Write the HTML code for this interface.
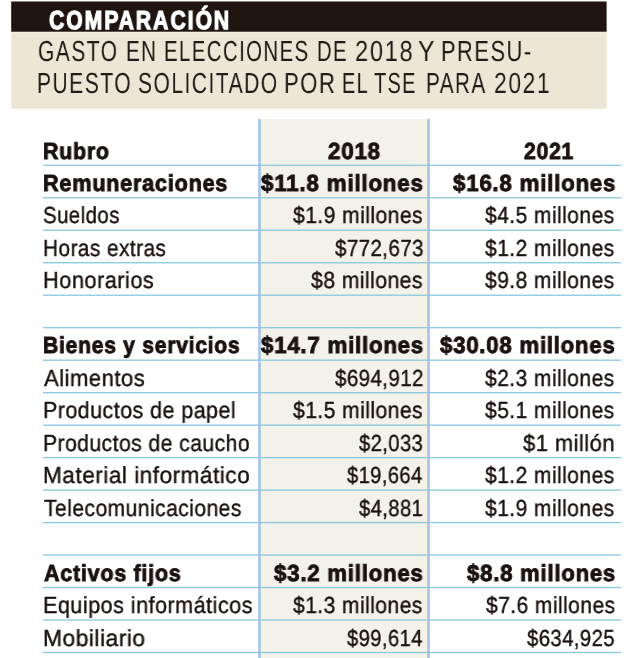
<!DOCTYPE html>
<html><head><meta charset="utf-8">
<style>
html,body{margin:0;padding:0;background:#fff;width:627px;height:658px;overflow:hidden;position:relative}
.t{position:absolute;white-space:nowrap;text-rendering:geometricPrecision;will-change:transform;font-family:"Liberation Sans",sans-serif;transform-origin:0 0}
.abs{position:absolute}
</style></head><body>
<svg class="abs" style="left:0;top:0" width="627" height="658" viewBox="0 0 627 658">
<rect x="11.2" y="1.5" width="595.4" height="107.3" fill="#ede6d6"/>
<rect x="11.2" y="31.6" width="595.4" height="1.6" fill="#f3eee0"/>
<rect x="11.2" y="1.5" width="595.4" height="30.2" fill="#1f1410"/>
<rect x="261" y="119" width="166" height="539" fill="#f2f1ea"/>
<rect x="261" y="119" width="2.5" height="539" fill="#f9f3e4"/>
<rect x="424.5" y="119" width="2.5" height="539" fill="#f9f3e4"/>
<rect x="43" y="164.65" width="578" height="1.3" fill="#88c8e0"/>
<rect x="43" y="197.13" width="578" height="1.3" fill="#88c8e0"/>
<rect x="43" y="229.61" width="578" height="1.3" fill="#88c8e0"/>
<rect x="43" y="262.09" width="578" height="1.3" fill="#88c8e0"/>
<rect x="43" y="294.57" width="578" height="1.3" fill="#88c8e0"/>
<rect x="43" y="327.05" width="578" height="1.3" fill="#88c8e0"/>
<rect x="43" y="359.53" width="578" height="1.3" fill="#88c8e0"/>
<rect x="43" y="392.01" width="578" height="1.3" fill="#88c8e0"/>
<rect x="43" y="424.49" width="578" height="1.3" fill="#88c8e0"/>
<rect x="43" y="456.97" width="578" height="1.3" fill="#88c8e0"/>
<rect x="43" y="489.45" width="578" height="1.3" fill="#88c8e0"/>
<rect x="43" y="521.93" width="578" height="1.3" fill="#88c8e0"/>
<rect x="43" y="554.41" width="578" height="1.3" fill="#88c8e0"/>
<rect x="43" y="586.89" width="578" height="1.3" fill="#88c8e0"/>
<rect x="43" y="619.37" width="578" height="1.3" fill="#88c8e0"/>
<rect x="43" y="651.85" width="578" height="1.3" fill="#88c8e0"/>
<rect x="258.2" y="119" width="2.6" height="539" fill="#a2c2e8"/>
<rect x="427.2" y="119" width="2.6" height="539" fill="#a2c2e8"/>
</svg>
<div class=t style="left:49.00px;top:6.50px;font-family:'Liberation Sans', sans-serif;font-weight:bold;font-size:26px;line-height:26px;white-space:nowrap;letter-spacing:2.5px;-webkit-text-stroke:1.3px #ffffff;color:#ffffff;transform:scaleX(0.8100)">COMPARACIÓN</div>
<div class=t style="left:38.18px;top:37.90px;font-family:'Liberation Sans', sans-serif;font-weight:normal;font-size:29px;line-height:29px;white-space:nowrap;letter-spacing:2px;-webkit-text-stroke:0.0px #ede6d6;color:#221b17;transform:scaleX(0.7243)">GASTO</div>
<div class=t style="left:126.08px;top:37.90px;font-family:'Liberation Sans', sans-serif;font-weight:normal;font-size:29px;line-height:29px;white-space:nowrap;letter-spacing:2px;-webkit-text-stroke:0.0px #ede6d6;color:#221b17;transform:scaleX(0.7105)">EN</div>
<div class=t style="left:163.89px;top:37.90px;font-family:'Liberation Sans', sans-serif;font-weight:normal;font-size:29px;line-height:29px;white-space:nowrap;letter-spacing:2px;-webkit-text-stroke:0.0px #ede6d6;color:#221b17;transform:scaleX(0.7035)">ELECCIONES</div>
<div class=t style="left:317.11px;top:37.90px;font-family:'Liberation Sans', sans-serif;font-weight:normal;font-size:29px;line-height:29px;white-space:nowrap;letter-spacing:2px;-webkit-text-stroke:0.0px #ede6d6;color:#221b17;transform:scaleX(0.6974)">DE</div>
<div class=t style="left:354.88px;top:37.90px;font-family:'Liberation Sans', sans-serif;font-weight:normal;font-size:29px;line-height:29px;white-space:nowrap;letter-spacing:2px;-webkit-text-stroke:0.0px #ede6d6;color:#221b17;transform:scaleX(0.8162)">2018</div>
<div class=t style="left:417.65px;top:37.90px;font-family:'Liberation Sans', sans-serif;font-weight:normal;font-size:29px;line-height:29px;white-space:nowrap;letter-spacing:2px;-webkit-text-stroke:0.0px #ede6d6;color:#221b17;transform:scaleX(0.8500)">Y</div>
<div class=t style="left:440.89px;top:37.90px;font-family:'Liberation Sans', sans-serif;font-weight:normal;font-size:29px;line-height:29px;white-space:nowrap;letter-spacing:2px;-webkit-text-stroke:0.0px #ede6d6;color:#221b17;transform:scaleX(0.7530)">PRESU-</div>
<div class=t style="left:37.45px;top:70.40px;font-family:'Liberation Sans', sans-serif;font-weight:normal;font-size:29px;line-height:29px;white-space:nowrap;letter-spacing:2px;-webkit-text-stroke:0.0px #ede6d6;color:#221b17;transform:scaleX(0.7270)">PUESTO</div>
<div class=t style="left:138.37px;top:70.40px;font-family:'Liberation Sans', sans-serif;font-weight:normal;font-size:29px;line-height:29px;white-space:nowrap;letter-spacing:2px;-webkit-text-stroke:0.0px #ede6d6;color:#221b17;transform:scaleX(0.7265)">SOLICITADO</div>
<div class=t style="left:283.98px;top:70.40px;font-family:'Liberation Sans', sans-serif;font-weight:normal;font-size:29px;line-height:29px;white-space:nowrap;letter-spacing:2px;-webkit-text-stroke:0.0px #ede6d6;color:#221b17;transform:scaleX(0.7603)">POR</div>
<div class=t style="left:341.93px;top:70.40px;font-family:'Liberation Sans', sans-serif;font-weight:normal;font-size:29px;line-height:29px;white-space:nowrap;letter-spacing:2px;-webkit-text-stroke:0.0px #ede6d6;color:#221b17;transform:scaleX(0.6857)">EL</div>
<div class=t style="left:373.71px;top:70.40px;font-family:'Liberation Sans', sans-serif;font-weight:normal;font-size:29px;line-height:29px;white-space:nowrap;letter-spacing:2px;-webkit-text-stroke:0.0px #ede6d6;color:#221b17;transform:scaleX(0.6862)">TSE</div>
<div class=t style="left:426.17px;top:70.40px;font-family:'Liberation Sans', sans-serif;font-weight:normal;font-size:29px;line-height:29px;white-space:nowrap;letter-spacing:2px;-webkit-text-stroke:0.0px #ede6d6;color:#221b17;transform:scaleX(0.7148)">PARA</div>
<div class=t style="left:493.71px;top:70.40px;font-family:'Liberation Sans', sans-serif;font-weight:normal;font-size:29px;line-height:29px;white-space:nowrap;letter-spacing:2px;-webkit-text-stroke:0.0px #ede6d6;color:#221b17;transform:scaleX(0.7882)">2021</div>
<div class=t style="left:42.88px;top:139.70px;font-family:'Liberation Sans', sans-serif;font-weight:bold;font-size:23.2px;line-height:23.2px;white-space:nowrap;letter-spacing:0.8px;-webkit-text-stroke:0.9px #1a1210;color:#1a1210;transform:scaleX(0.9229)">Rubro</div>
<div class=t style="left:328.40px;top:139.70px;font-family:'Liberation Sans', sans-serif;font-weight:bold;font-size:23.2px;line-height:23.2px;white-space:nowrap;letter-spacing:0.8px;-webkit-text-stroke:0.9px #1a1210;color:#1a1210;transform:scaleX(0.9648)">2018</div>
<div class=t style="left:523.60px;top:139.70px;font-family:'Liberation Sans', sans-serif;font-weight:bold;font-size:23.2px;line-height:23.2px;white-space:nowrap;letter-spacing:0.8px;-webkit-text-stroke:0.9px #1a1210;color:#1a1210;transform:scaleX(0.9130)">2021</div>
<div class=t style="left:42.87px;top:171.85px;font-family:'Liberation Sans', sans-serif;font-weight:bold;font-size:23.2px;line-height:23.2px;white-space:nowrap;letter-spacing:0.8px;-webkit-text-stroke:0.9px #1a1210;color:#1a1210;transform:scaleX(0.9347)">Remuneraciones</div>
<div class=t style="left:261.20px;top:171.85px;font-family:'Liberation Sans', sans-serif;font-weight:bold;font-size:23.2px;line-height:23.2px;white-space:nowrap;letter-spacing:0.8px;-webkit-text-stroke:0.9px #1a1210;color:#1a1210;transform:scaleX(0.9659)">$11.8 millones</div>
<div class=t style="left:453.00px;top:171.85px;font-family:'Liberation Sans', sans-serif;font-weight:bold;font-size:23.2px;line-height:23.2px;white-space:nowrap;letter-spacing:0.8px;-webkit-text-stroke:0.9px #1a1210;color:#1a1210;transform:scaleX(0.9613)">$16.8 millones</div>
<div class=t style="left:42.92px;top:204.35px;font-family:'Liberation Sans', sans-serif;font-weight:normal;font-size:23.2px;line-height:23.2px;white-space:nowrap;letter-spacing:0.5px;-webkit-text-stroke:0.4px #1a1210;color:#1a1210;transform:scaleX(0.8800)">Sueldos</div>
<div class=t style="left:293.00px;top:204.35px;font-family:'Liberation Sans', sans-serif;font-weight:normal;font-size:23.2px;line-height:23.2px;white-space:nowrap;letter-spacing:0.5px;-webkit-text-stroke:0.4px #1a1210;color:#1a1210;transform:scaleX(0.9085)">$1.9 millones</div>
<div class=t style="left:485.40px;top:204.35px;font-family:'Liberation Sans', sans-serif;font-weight:normal;font-size:23.2px;line-height:23.2px;white-space:nowrap;letter-spacing:0.5px;-webkit-text-stroke:0.4px #1a1210;color:#1a1210;transform:scaleX(0.9056)">$4.5 millones</div>
<div class=t style="left:42.90px;top:236.85px;font-family:'Liberation Sans', sans-serif;font-weight:normal;font-size:23.2px;line-height:23.2px;white-space:nowrap;letter-spacing:0.5px;-webkit-text-stroke:0.4px #1a1210;color:#1a1210;transform:scaleX(0.8978)">Horas extras</div>
<div class=t style="left:334.60px;top:236.85px;font-family:'Liberation Sans', sans-serif;font-weight:normal;font-size:23.2px;line-height:23.2px;white-space:nowrap;letter-spacing:0.5px;-webkit-text-stroke:0.4px #1a1210;color:#1a1210;transform:scaleX(0.8828)">$772,673</div>
<div class=t style="left:485.40px;top:236.85px;font-family:'Liberation Sans', sans-serif;font-weight:normal;font-size:23.2px;line-height:23.2px;white-space:nowrap;letter-spacing:0.5px;-webkit-text-stroke:0.4px #1a1210;color:#1a1210;transform:scaleX(0.9056)">$1.2 millones</div>
<div class=t style="left:42.86px;top:269.35px;font-family:'Liberation Sans', sans-serif;font-weight:normal;font-size:23.2px;line-height:23.2px;white-space:nowrap;letter-spacing:0.5px;-webkit-text-stroke:0.4px #1a1210;color:#1a1210;transform:scaleX(0.9397)">Honorarios</div>
<div class=t style="left:310.80px;top:269.35px;font-family:'Liberation Sans', sans-serif;font-weight:normal;font-size:23.2px;line-height:23.2px;white-space:nowrap;letter-spacing:0.5px;-webkit-text-stroke:0.4px #1a1210;color:#1a1210;transform:scaleX(0.9115)">$8 millones</div>
<div class=t style="left:485.40px;top:269.35px;font-family:'Liberation Sans', sans-serif;font-weight:normal;font-size:23.2px;line-height:23.2px;white-space:nowrap;letter-spacing:0.5px;-webkit-text-stroke:0.4px #1a1210;color:#1a1210;transform:scaleX(0.9056)">$9.8 millones</div>
<div class=t style="left:42.89px;top:334.35px;font-family:'Liberation Sans', sans-serif;font-weight:bold;font-size:23.2px;line-height:23.2px;white-space:nowrap;letter-spacing:0.8px;-webkit-text-stroke:0.9px #1a1210;color:#1a1210;transform:scaleX(0.9107)">Bienes y servicios</div>
<div class=t style="left:261.20px;top:334.35px;font-family:'Liberation Sans', sans-serif;font-weight:bold;font-size:23.2px;line-height:23.2px;white-space:nowrap;letter-spacing:0.8px;-webkit-text-stroke:0.9px #1a1210;color:#1a1210;transform:scaleX(0.9601)">$14.7 millones</div>
<div class=t style="left:440.30px;top:334.35px;font-family:'Liberation Sans', sans-serif;font-weight:bold;font-size:23.2px;line-height:23.2px;white-space:nowrap;letter-spacing:0.8px;-webkit-text-stroke:0.9px #1a1210;color:#1a1210;transform:scaleX(0.9571)">$30.08 millones</div>
<div class=t style="left:43.80px;top:366.85px;font-family:'Liberation Sans', sans-serif;font-weight:normal;font-size:23.2px;line-height:23.2px;white-space:nowrap;letter-spacing:0.5px;-webkit-text-stroke:0.4px #1a1210;color:#1a1210;transform:scaleX(0.9524)">Alimentos</div>
<div class=t style="left:334.60px;top:366.85px;font-family:'Liberation Sans', sans-serif;font-weight:normal;font-size:23.2px;line-height:23.2px;white-space:nowrap;letter-spacing:0.5px;-webkit-text-stroke:0.4px #1a1210;color:#1a1210;transform:scaleX(0.8828)">$694,912</div>
<div class=t style="left:485.40px;top:366.85px;font-family:'Liberation Sans', sans-serif;font-weight:normal;font-size:23.2px;line-height:23.2px;white-space:nowrap;letter-spacing:0.5px;-webkit-text-stroke:0.4px #1a1210;color:#1a1210;transform:scaleX(0.9056)">$2.3 millones</div>
<div class=t style="left:42.88px;top:399.35px;font-family:'Liberation Sans', sans-serif;font-weight:normal;font-size:23.2px;line-height:23.2px;white-space:nowrap;letter-spacing:0.5px;-webkit-text-stroke:0.4px #1a1210;color:#1a1210;transform:scaleX(0.9248)">Productos de papel</div>
<div class=t style="left:293.00px;top:399.35px;font-family:'Liberation Sans', sans-serif;font-weight:normal;font-size:23.2px;line-height:23.2px;white-space:nowrap;letter-spacing:0.5px;-webkit-text-stroke:0.4px #1a1210;color:#1a1210;transform:scaleX(0.9085)">$1.5 millones</div>
<div class=t style="left:485.40px;top:399.35px;font-family:'Liberation Sans', sans-serif;font-weight:normal;font-size:23.2px;line-height:23.2px;white-space:nowrap;letter-spacing:0.5px;-webkit-text-stroke:0.4px #1a1210;color:#1a1210;transform:scaleX(0.9056)">$5.1 millones</div>
<div class=t style="left:42.89px;top:431.85px;font-family:'Liberation Sans', sans-serif;font-weight:normal;font-size:23.2px;line-height:23.2px;white-space:nowrap;letter-spacing:0.5px;-webkit-text-stroke:0.4px #1a1210;color:#1a1210;transform:scaleX(0.9107)">Productos de caucho</div>
<div class=t style="left:358.60px;top:431.85px;font-family:'Liberation Sans', sans-serif;font-weight:normal;font-size:23.2px;line-height:23.2px;white-space:nowrap;letter-spacing:0.5px;-webkit-text-stroke:0.4px #1a1210;color:#1a1210;transform:scaleX(0.8685)">$2,033</div>
<div class=t style="left:523.30px;top:431.85px;font-family:'Liberation Sans', sans-serif;font-weight:normal;font-size:23.2px;line-height:23.2px;white-space:nowrap;letter-spacing:0.5px;-webkit-text-stroke:0.4px #1a1210;color:#1a1210;transform:scaleX(0.9448)">$1 millón</div>
<div class=t style="left:42.82px;top:464.35px;font-family:'Liberation Sans', sans-serif;font-weight:normal;font-size:23.2px;line-height:23.2px;white-space:nowrap;letter-spacing:0.5px;-webkit-text-stroke:0.4px #1a1210;color:#1a1210;transform:scaleX(0.9757)">Material informático</div>
<div class=t style="left:346.70px;top:464.35px;font-family:'Liberation Sans', sans-serif;font-weight:normal;font-size:23.2px;line-height:23.2px;white-space:nowrap;letter-spacing:0.5px;-webkit-text-stroke:0.4px #1a1210;color:#1a1210;transform:scaleX(0.8655)">$19,664</div>
<div class=t style="left:485.40px;top:464.35px;font-family:'Liberation Sans', sans-serif;font-weight:normal;font-size:23.2px;line-height:23.2px;white-space:nowrap;letter-spacing:0.5px;-webkit-text-stroke:0.4px #1a1210;color:#1a1210;transform:scaleX(0.9056)">$1.2 millones</div>
<div class=t style="left:43.80px;top:496.85px;font-family:'Liberation Sans', sans-serif;font-weight:normal;font-size:23.2px;line-height:23.2px;white-space:nowrap;letter-spacing:0.5px;-webkit-text-stroke:0.4px #1a1210;color:#1a1210;transform:scaleX(0.9083)">Telecomunicaciones</div>
<div class=t style="left:358.60px;top:496.85px;font-family:'Liberation Sans', sans-serif;font-weight:normal;font-size:23.2px;line-height:23.2px;white-space:nowrap;letter-spacing:0.5px;-webkit-text-stroke:0.4px #1a1210;color:#1a1210;transform:scaleX(0.8685)">$4,881</div>
<div class=t style="left:485.40px;top:496.85px;font-family:'Liberation Sans', sans-serif;font-weight:normal;font-size:23.2px;line-height:23.2px;white-space:nowrap;letter-spacing:0.5px;-webkit-text-stroke:0.4px #1a1210;color:#1a1210;transform:scaleX(0.9056)">$1.9 millones</div>
<div class=t style="left:43.80px;top:561.85px;font-family:'Liberation Sans', sans-serif;font-weight:bold;font-size:23.2px;line-height:23.2px;white-space:nowrap;letter-spacing:0.8px;-webkit-text-stroke:0.9px #1a1210;color:#1a1210;transform:scaleX(0.9279)">Activos fijos</div>
<div class=t style="left:273.90px;top:561.85px;font-family:'Liberation Sans', sans-serif;font-weight:bold;font-size:23.2px;line-height:23.2px;white-space:nowrap;letter-spacing:0.8px;-webkit-text-stroke:0.9px #1a1210;color:#1a1210;transform:scaleX(0.9587)">$3.2 millones</div>
<div class=t style="left:466.50px;top:561.85px;font-family:'Liberation Sans', sans-serif;font-weight:bold;font-size:23.2px;line-height:23.2px;white-space:nowrap;letter-spacing:0.8px;-webkit-text-stroke:0.9px #1a1210;color:#1a1210;transform:scaleX(0.9548)">$8.8 millones</div>
<div class=t style="left:42.87px;top:594.35px;font-family:'Liberation Sans', sans-serif;font-weight:normal;font-size:23.2px;line-height:23.2px;white-space:nowrap;letter-spacing:0.5px;-webkit-text-stroke:0.4px #1a1210;color:#1a1210;transform:scaleX(0.9318)">Equipos informáticos</div>
<div class=t style="left:293.30px;top:594.35px;font-family:'Liberation Sans', sans-serif;font-weight:normal;font-size:23.2px;line-height:23.2px;white-space:nowrap;letter-spacing:0.5px;-webkit-text-stroke:0.4px #1a1210;color:#1a1210;transform:scaleX(0.9063)">$1.3 millones</div>
<div class=t style="left:485.50px;top:594.35px;font-family:'Liberation Sans', sans-serif;font-weight:normal;font-size:23.2px;line-height:23.2px;white-space:nowrap;letter-spacing:0.5px;-webkit-text-stroke:0.4px #1a1210;color:#1a1210;transform:scaleX(0.9049)">$7.6 millones</div>
<div class=t style="left:42.82px;top:626.85px;font-family:'Liberation Sans', sans-serif;font-weight:normal;font-size:23.2px;line-height:23.2px;white-space:nowrap;letter-spacing:0.5px;-webkit-text-stroke:0.4px #1a1210;color:#1a1210;transform:scaleX(0.9843)">Mobiliario</div>
<div class=t style="left:346.50px;top:626.85px;font-family:'Liberation Sans', sans-serif;font-weight:normal;font-size:23.2px;line-height:23.2px;white-space:nowrap;letter-spacing:0.5px;-webkit-text-stroke:0.4px #1a1210;color:#1a1210;transform:scaleX(0.8678)">$99,614</div>
<div class=t style="left:526.60px;top:626.85px;font-family:'Liberation Sans', sans-serif;font-weight:normal;font-size:23.2px;line-height:23.2px;white-space:nowrap;letter-spacing:0.5px;-webkit-text-stroke:0.4px #1a1210;color:#1a1210;transform:scaleX(0.8740)">$634,925</div>
</body></html>
